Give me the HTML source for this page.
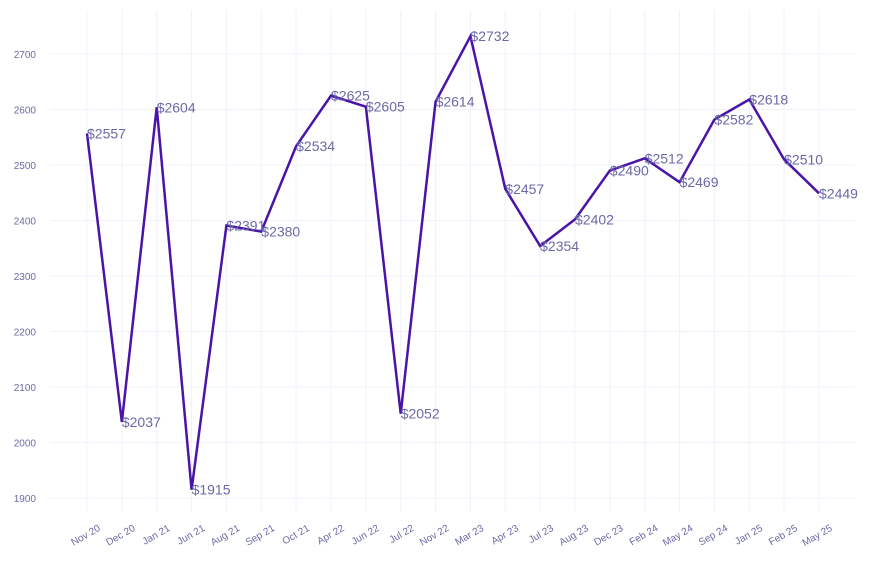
<!DOCTYPE html>
<html><head><meta charset="utf-8"><style>
body{margin:0;background:#fff;font-family:"Liberation Sans",sans-serif}
svg{display:block}
</style></head><body>
<svg id="chart" width="873" height="565" xmlns="http://www.w3.org/2000/svg">
<g id="grid"></g>
<g id="axes"></g>
<g id="series"></g>
</svg>
<script>
const categories=["Nov 20","Dec 20","Jan 21","Jun 21","Aug 21","Sep 21","Oct 21","Apr 22","Jun 22","Jul 22","Nov 22","Mar 23","Apr 23","Jul 23","Aug 23","Dec 23","Feb 24","May 24","Sep 24","Jan 25","Feb 25","May 25"];
const values=[2557,2037,2604,1915,2391,2380,2534,2625,2605,2052,2614,2732,2457,2354,2402,2490,2512,2469,2582,2618,2510,2449];
const yTicks=[1900,2000,2100,2200,2300,2400,2500,2600,2700];
const NS="http://www.w3.org/2000/svg";
const x0=87,x1=819,yMin=1900,yMax=2700,yB=498,yT=54;
function xs(i){return x0+(x1-x0)*i/(categories.length-1);}
function ys(v){return yB-(v-yMin)/(yMax-yMin)*(yB-yT);}
function mk(t,a,p){const e=document.createElementNS(NS,t);for(const k in a)e.setAttribute(k,a[k]);p.appendChild(e);return e;}
const grid=document.getElementById('grid'),axes=document.getElementById('axes'),series=document.getElementById('series');
yTicks.forEach(v=>{
  const l=mk('line',{x1:50,x2:855,y1:ys(v),y2:ys(v),stroke:'#f1f0fb','stroke-width':1},grid);
  
  
  const t=mk('text',{x:36,y:ys(v)+4,'text-anchor':'end','font-size':10,fill:'#6b6aa6'},axes);
  t.textContent=v;
  
  
});
categories.forEach((c,i)=>{
  const l=mk('line',{x1:xs(i),x2:xs(i),y1:10,y2:512,stroke:'#f1f0fb','stroke-width':1},grid);
  
  
  const t=mk('text',{x:xs(i)+14,y:530,'text-anchor':'end','font-size':10,fill:'#6b6aa6',transform:'rotate(-30 '+(xs(i)+14)+' 530)'},axes);
  t.textContent=c;
  
  
});
const pl=mk('polyline',{points:values.map((v,i)=>xs(i)+','+ys(v)).join(' '),fill:'none',stroke:'#4a14a8','stroke-width':2.5,'stroke-linejoin':'miter'},series);


values.forEach((v,i)=>{
  const t=mk('text',{x:xs(i),y:ys(v)+5,'font-size':14,fill:'#6b6aa6'},series);
  t.textContent='$'+v;
  
  
});
</script>
</body></html>
